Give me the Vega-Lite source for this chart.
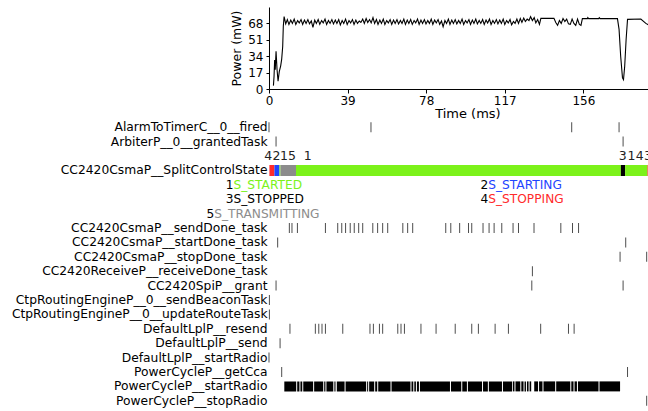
{
  "$schema": "https://vega.github.io/schema/vega-lite/v6.json",
  "padding": {"left": 5, "top": 7, "right": 0, "bottom": 0},
  "spacing": -1,
  "config": {
    "font": "DejaVu Sans",
    "view": {"stroke": null},
    "axis": {"grid": false, "labelColor": "#000", "titleColor": "#000", "domainColor": "#000", "tickColor": "#000", "titleFontWeight": "normal"}
  },
  "datasets": {
    "power": [
      {"t": 2.2, "p": 3.5}, {"t": 2.5, "p": 13}, {"t": 2.8, "p": 30}, {"t": 3.1, "p": 20}, {"t": 3.5, "p": 39}, {"t": 4.0, "p": 20},
      {"t": 4.5, "p": 8}, {"t": 5.1, "p": 18}, {"t": 5.8, "p": 24}, {"t": 6.3, "p": 31}, {"t": 6.8, "p": 44}, {"t": 7.1, "p": 65},
      {"t": 7.5, "p": 75}, {"t": 8.3, "p": 67.5}, {"t": 9.1, "p": 72}, {"t": 9.9, "p": 67}, {"t": 10.8, "p": 71.5}, {"t": 11.6, "p": 68},
      {"t": 12.5, "p": 72.5}, {"t": 13.3, "p": 67}, {"t": 14.2, "p": 71}, {"t": 15.0, "p": 68.5}, {"t": 15.9, "p": 72}, {"t": 16.7, "p": 67},
      {"t": 17.6, "p": 71.5}, {"t": 18.4, "p": 68}, {"t": 19.3, "p": 72}, {"t": 20.1, "p": 67.5}, {"t": 21.0, "p": 70.5}, {"t": 21.8, "p": 64},
      {"t": 22.7, "p": 71.5}, {"t": 23.5, "p": 68}, {"t": 24.4, "p": 72}, {"t": 25.2, "p": 67}, {"t": 26.1, "p": 71}, {"t": 26.9, "p": 68.5},
      {"t": 27.8, "p": 72.5}, {"t": 28.6, "p": 67}, {"t": 29.5, "p": 71}, {"t": 30.3, "p": 68}, {"t": 31.2, "p": 72}, {"t": 32.0, "p": 67.5},
      {"t": 32.9, "p": 71.5}, {"t": 33.7, "p": 68}, {"t": 34.6, "p": 72}, {"t": 35.4, "p": 66.5}, {"t": 36.3, "p": 71}, {"t": 37.1, "p": 68},
      {"t": 38.0, "p": 72.5}, {"t": 38.8, "p": 67}, {"t": 39.7, "p": 71}, {"t": 40.5, "p": 68.5}, {"t": 41.4, "p": 72}, {"t": 42.2, "p": 67},
      {"t": 43.1, "p": 71.5}, {"t": 43.9, "p": 68}, {"t": 44.8, "p": 70.5}, {"t": 45.6, "p": 69}, {"t": 46.5, "p": 72.5}, {"t": 47.3, "p": 68},
      {"t": 48.2, "p": 73}, {"t": 49.0, "p": 69}, {"t": 49.9, "p": 72}, {"t": 50.7, "p": 68.5}, {"t": 51.6, "p": 74}, {"t": 52.4, "p": 68},
      {"t": 53.3, "p": 72}, {"t": 54.1, "p": 67}, {"t": 55.0, "p": 71.5}, {"t": 55.8, "p": 68}, {"t": 56.7, "p": 72.5}, {"t": 57.5, "p": 67},
      {"t": 58.4, "p": 71}, {"t": 59.2, "p": 68.5}, {"t": 60.1, "p": 72}, {"t": 60.9, "p": 67}, {"t": 61.8, "p": 71.5}, {"t": 62.6, "p": 68},
      {"t": 63.5, "p": 72}, {"t": 64.3, "p": 67.5}, {"t": 65.2, "p": 71}, {"t": 66.0, "p": 68}, {"t": 66.9, "p": 72.5}, {"t": 67.7, "p": 67},
      {"t": 68.6, "p": 71.5}, {"t": 69.4, "p": 68}, {"t": 70.3, "p": 72}, {"t": 71.1, "p": 67}, {"t": 72.0, "p": 71}, {"t": 72.8, "p": 68.5},
      {"t": 73.7, "p": 72.5}, {"t": 74.5, "p": 67}, {"t": 75.4, "p": 71.5}, {"t": 76.2, "p": 68}, {"t": 77.1, "p": 72}, {"t": 77.9, "p": 67.5},
      {"t": 78.8, "p": 71}, {"t": 79.6, "p": 68}, {"t": 80.5, "p": 72.5}, {"t": 81.3, "p": 67}, {"t": 82.2, "p": 71.5}, {"t": 83.0, "p": 68.5},
      {"t": 83.9, "p": 72}, {"t": 84.7, "p": 67}, {"t": 85.6, "p": 70.5}, {"t": 86.4, "p": 64.5}, {"t": 87.3, "p": 71}, {"t": 88.1, "p": 68},
      {"t": 89.0, "p": 72.5}, {"t": 89.8, "p": 67}, {"t": 90.7, "p": 71.5}, {"t": 91.5, "p": 68}, {"t": 92.4, "p": 72}, {"t": 93.2, "p": 67.5},
      {"t": 94.1, "p": 71}, {"t": 94.9, "p": 68}, {"t": 95.8, "p": 72.5}, {"t": 96.6, "p": 67}, {"t": 97.5, "p": 71}, {"t": 98.3, "p": 68.5},
      {"t": 99.2, "p": 72}, {"t": 100.0, "p": 67}, {"t": 100.9, "p": 71.5}, {"t": 101.7, "p": 68}, {"t": 102.6, "p": 72.5}, {"t": 103.4, "p": 67.5},
      {"t": 104.3, "p": 71}, {"t": 105.1, "p": 68}, {"t": 106.0, "p": 72}, {"t": 106.8, "p": 67}, {"t": 107.7, "p": 71.5}, {"t": 108.5, "p": 68.5},
      {"t": 109.4, "p": 72.5}, {"t": 110.2, "p": 67}, {"t": 111.1, "p": 71}, {"t": 111.9, "p": 68}, {"t": 112.8, "p": 72}, {"t": 113.6, "p": 67.5},
      {"t": 114.5, "p": 71.5}, {"t": 115.3, "p": 68}, {"t": 116.2, "p": 72.5}, {"t": 117.0, "p": 67}, {"t": 117.9, "p": 71}, {"t": 118.7, "p": 68.5},
      {"t": 119.6, "p": 72}, {"t": 120.4, "p": 66.5}, {"t": 121.3, "p": 70}, {"t": 122.1, "p": 68}, {"t": 123.0, "p": 72.5}, {"t": 123.8, "p": 68},
      {"t": 124.7, "p": 73}, {"t": 125.5, "p": 69}, {"t": 126.4, "p": 73.5}, {"t": 127.2, "p": 70}, {"t": 128.1, "p": 72.5}, {"t": 129.0, "p": 71},
      {"t": 129.8, "p": 75}, {"t": 130.7, "p": 71}, {"t": 131.6, "p": 74}, {"t": 132.4, "p": 68.5}, {"t": 133.3, "p": 72}, {"t": 134.2, "p": 67},
      {"t": 134.9, "p": 73.2}, {"t": 141.4, "p": 73.2}, {"t": 142.3, "p": 69}, {"t": 143.2, "p": 66}, {"t": 144.1, "p": 71}, {"t": 145.0, "p": 68},
      {"t": 145.9, "p": 73}, {"t": 146.8, "p": 70}, {"t": 147.7, "p": 72.5}, {"t": 148.6, "p": 67.5}, {"t": 149.5, "p": 67}, {"t": 150.4, "p": 72.5},
      {"t": 151.3, "p": 68}, {"t": 152.2, "p": 66}, {"t": 153.1, "p": 72.5}, {"t": 154.0, "p": 67}, {"t": 154.8, "p": 66}, {"t": 155.5, "p": 73},
      {"t": 158.0, "p": 73}, {"t": 158.2, "p": 74}, {"t": 158.6, "p": 73}, {"t": 163.6, "p": 73}, {"t": 163.9, "p": 74}, {"t": 164.3, "p": 73},
      {"t": 172.9, "p": 73}, {"t": 173.7, "p": 61.8}, {"t": 174.5, "p": 34}, {"t": 175.4, "p": 11.5}, {"t": 175.9, "p": 9.7}, {"t": 176.5, "p": 23.6},
      {"t": 177.2, "p": 51.4}, {"t": 177.9, "p": 72.2}, {"t": 184.5, "p": 72.5}, {"t": 187.0, "p": 68}, {"t": 188.6, "p": 66}
    ],
    "events": [
      {"row": "AlarmToTimerC__0__fired", "t": 0.0}, {"row": "AlarmToTimerC__0__fired", "t": 50.6}, {"row": "AlarmToTimerC__0__fired", "t": 150.2}, {"row": "AlarmToTimerC__0__fired", "t": 173.7},
      {"row": "ArbiterP__0__grantedTask", "t": 3.5}, {"row": "ArbiterP__0__grantedTask", "t": 175.7},
      {"row": "CC2420CsmaP__sendDone_task", "t": 10.1}, {"row": "CC2420CsmaP__sendDone_task", "t": 11.4}, {"row": "CC2420CsmaP__sendDone_task", "t": 14.1},
      {"row": "CC2420CsmaP__sendDone_task", "t": 28.0}, {"row": "CC2420CsmaP__sendDone_task", "t": 34.1}, {"row": "CC2420CsmaP__sendDone_task", "t": 36.1},
      {"row": "CC2420CsmaP__sendDone_task", "t": 38.0}, {"row": "CC2420CsmaP__sendDone_task", "t": 40.3}, {"row": "CC2420CsmaP__sendDone_task", "t": 42.3},
      {"row": "CC2420CsmaP__sendDone_task", "t": 44.5}, {"row": "CC2420CsmaP__sendDone_task", "t": 46.5}, {"row": "CC2420CsmaP__sendDone_task", "t": 51.5},
      {"row": "CC2420CsmaP__sendDone_task", "t": 53.9}, {"row": "CC2420CsmaP__sendDone_task", "t": 56.4}, {"row": "CC2420CsmaP__sendDone_task", "t": 58.9},
      {"row": "CC2420CsmaP__sendDone_task", "t": 66.4}, {"row": "CC2420CsmaP__sendDone_task", "t": 68.8}, {"row": "CC2420CsmaP__sendDone_task", "t": 71.3},
      {"row": "CC2420CsmaP__sendDone_task", "t": 87.7}, {"row": "CC2420CsmaP__sendDone_task", "t": 90.2}, {"row": "CC2420CsmaP__sendDone_task", "t": 94.6},
      {"row": "CC2420CsmaP__sendDone_task", "t": 99.0}, {"row": "CC2420CsmaP__sendDone_task", "t": 100.6}, {"row": "CC2420CsmaP__sendDone_task", "t": 106.2},
      {"row": "CC2420CsmaP__sendDone_task", "t": 109.2}, {"row": "CC2420CsmaP__sendDone_task", "t": 111.7}, {"row": "CC2420CsmaP__sendDone_task", "t": 115.5},
      {"row": "CC2420CsmaP__sendDone_task", "t": 121.1}, {"row": "CC2420CsmaP__sendDone_task", "t": 123.8}, {"row": "CC2420CsmaP__sendDone_task", "t": 131.5},
      {"row": "CC2420CsmaP__sendDone_task", "t": 144.8}, {"row": "CC2420CsmaP__sendDone_task", "t": 150.6}, {"row": "CC2420CsmaP__sendDone_task", "t": 153.6},
      {"row": "CC2420CsmaP__startDone_task", "t": 4.3}, {"row": "CC2420CsmaP__startDone_task", "t": 177.0},
      {"row": "CC2420CsmaP__stopDone_task", "t": 174.2}, {"row": "CC2420CsmaP__stopDone_task", "t": 187.4},
      {"row": "CC2420ReceiveP__receiveDone_task", "t": 130.7},
      {"row": "CC2420SpiP__grant", "t": 3.5}, {"row": "CC2420SpiP__grant", "t": 130.4}, {"row": "CC2420SpiP__grant", "t": 175.7},
      {"row": "CtpRoutingEngineP__0__sendBeaconTask", "t": 0.2},
      {"row": "CtpRoutingEngineP__0__updateRouteTask", "t": 0.2},
      {"row": "DefaultLplP__resend", "t": 10.4}, {"row": "DefaultLplP__resend", "t": 23.0}, {"row": "DefaultLplP__resend", "t": 24.7},
      {"row": "DefaultLplP__resend", "t": 26.3}, {"row": "DefaultLplP__resend", "t": 28.0}, {"row": "DefaultLplP__resend", "t": 36.6},
      {"row": "DefaultLplP__resend", "t": 50.1}, {"row": "DefaultLplP__resend", "t": 51.8}, {"row": "DefaultLplP__resend", "t": 54.8},
      {"row": "DefaultLplP__resend", "t": 56.4}, {"row": "DefaultLplP__resend", "t": 63.9}, {"row": "DefaultLplP__resend", "t": 65.5},
      {"row": "DefaultLplP__resend", "t": 67.2}, {"row": "DefaultLplP__resend", "t": 75.4}, {"row": "DefaultLplP__resend", "t": 82.9},
      {"row": "DefaultLplP__resend", "t": 92.4}, {"row": "DefaultLplP__resend", "t": 100.6}, {"row": "DefaultLplP__resend", "t": 103.9},
      {"row": "DefaultLplP__resend", "t": 112.2}, {"row": "DefaultLplP__resend", "t": 118.8}, {"row": "DefaultLplP__resend", "t": 134.8},
      {"row": "DefaultLplP__resend", "t": 148.6}, {"row": "DefaultLplP__resend", "t": 151.4},
      {"row": "DefaultLplP__send", "t": 5.5},
      {"row": "DefaultLplP__startRadio", "t": 0.0},
      {"row": "PowerCycleP__getCca", "t": 6.3}, {"row": "PowerCycleP__getCca", "t": 177.9},
      {"row": "PowerCycleP__stopRadio", "t": 187.4}
    ],
    "states": [
      {"row": "CC2420CsmaP__SplitControlState", "t": 0.2, "t2": 2.7, "state": "S_STOPPING"},
      {"row": "CC2420CsmaP__SplitControlState", "t": 2.7, "t2": 5.2, "state": "S_STARTING"},
      {"row": "CC2420CsmaP__SplitControlState", "t": 5.2, "t2": 5.7, "state": "S_STARTED"},
      {"row": "CC2420CsmaP__SplitControlState", "t": 5.7, "t2": 13.4, "state": "S_TRANSMITTING"},
      {"row": "CC2420CsmaP__SplitControlState", "t": 13.4, "t2": 174.6, "state": "S_STARTED"},
      {"row": "CC2420CsmaP__SplitControlState", "t": 174.6, "t2": 176.7, "state": "S_STOPPED"},
      {"row": "CC2420CsmaP__SplitControlState", "t": 176.7, "t2": 187.8, "state": "S_STARTED"},
      {"row": "CC2420CsmaP__SplitControlState", "t": 187.8, "t2": 188.2, "state": "S_STOPPING"},
      {"row": "CC2420CsmaP__SplitControlState", "t": 188.2, "t2": 190.0, "state": "S_STOPPED"}
    ],
    "runs": [
      {"row": "PowerCycleP__startRadio", "t": 7.6, "t2": 13.5}, {"row": "PowerCycleP__startRadio", "t": 14.0, "t2": 15.1},
      {"row": "PowerCycleP__startRadio", "t": 15.6, "t2": 16.5}, {"row": "PowerCycleP__startRadio", "t": 17.0, "t2": 21.9},
      {"row": "PowerCycleP__startRadio", "t": 22.4, "t2": 26.9}, {"row": "PowerCycleP__startRadio", "t": 27.4, "t2": 28.0},
      {"row": "PowerCycleP__startRadio", "t": 28.5, "t2": 31.9}, {"row": "PowerCycleP__startRadio", "t": 32.4, "t2": 32.7},
      {"row": "PowerCycleP__startRadio", "t": 33.0, "t2": 33.3}, {"row": "PowerCycleP__startRadio", "t": 33.7, "t2": 37.5},
      {"row": "PowerCycleP__startRadio", "t": 38.0, "t2": 48.2}, {"row": "PowerCycleP__startRadio", "t": 48.7, "t2": 49.2},
      {"row": "PowerCycleP__startRadio", "t": 49.7, "t2": 52.2}, {"row": "PowerCycleP__startRadio", "t": 52.7, "t2": 53.7},
      {"row": "PowerCycleP__startRadio", "t": 54.2, "t2": 60.3}, {"row": "PowerCycleP__startRadio", "t": 60.8, "t2": 70.2},
      {"row": "PowerCycleP__startRadio", "t": 70.7, "t2": 71.6}, {"row": "PowerCycleP__startRadio", "t": 72.1, "t2": 72.9},
      {"row": "PowerCycleP__startRadio", "t": 73.4, "t2": 74.4}, {"row": "PowerCycleP__startRadio", "t": 74.9, "t2": 89.8},
      {"row": "PowerCycleP__startRadio", "t": 90.3, "t2": 95.4}, {"row": "PowerCycleP__startRadio", "t": 95.9, "t2": 98.2},
      {"row": "PowerCycleP__startRadio", "t": 98.7, "t2": 105.7}, {"row": "PowerCycleP__startRadio", "t": 106.2, "t2": 108.6},
      {"row": "PowerCycleP__startRadio", "t": 109.1, "t2": 115.6}, {"row": "PowerCycleP__startRadio", "t": 116.1, "t2": 120.6},
      {"row": "PowerCycleP__startRadio", "t": 121.0, "t2": 121.8}, {"row": "PowerCycleP__startRadio", "t": 122.3, "t2": 124.7},
      {"row": "PowerCycleP__startRadio", "t": 125.2, "t2": 126.3}, {"row": "PowerCycleP__startRadio", "t": 126.8, "t2": 127.5},
      {"row": "PowerCycleP__startRadio", "t": 128.0, "t2": 128.8}, {"row": "PowerCycleP__startRadio", "t": 129.3, "t2": 130.1},
      {"row": "PowerCycleP__startRadio", "t": 131.6, "t2": 133.5}, {"row": "PowerCycleP__startRadio", "t": 134.0, "t2": 135.7},
      {"row": "PowerCycleP__startRadio", "t": 136.2, "t2": 142.0}, {"row": "PowerCycleP__startRadio", "t": 142.5, "t2": 149.5},
      {"row": "PowerCycleP__startRadio", "t": 150.0, "t2": 151.1}, {"row": "PowerCycleP__startRadio", "t": 151.6, "t2": 152.8},
      {"row": "PowerCycleP__startRadio", "t": 153.3, "t2": 163.5}, {"row": "PowerCycleP__startRadio", "t": 164.0, "t2": 174.2}
    ],
    "labelsLeft": [
      {"row": "_lbl", "t": -0.4, "n": "4"}, {"row": "_lbl", "t": 3.7, "n": "2"}, {"row": "_lbl", "t": 7.4, "n": "1"},
      {"row": "_lbl", "t": 11.4, "n": "5"}, {"row": "_lbl", "t": 19.2, "n": "1"}
    ],
    "labelsRight": [
      {"row": "_lbl", "t": 175.5, "n": "3"}, {"row": "_lbl", "t": 179.9, "n": "1"}, {"row": "_lbl", "t": 184.0, "n": "4"}, {"row": "_lbl", "t": 188.0, "n": "3"}
    ],
    "legend": [
      {"row": "_leg1", "t": -17.6, "n": "1", "state": "S_STARTED"},
      {"row": "_leg1", "t": 108.8, "n": "2", "state": "S_STARTING"},
      {"row": "_leg2", "t": -17.6, "n": "3", "state": "S_STOPPED"},
      {"row": "_leg2", "t": 108.8, "n": "4", "state": "S_STOPPING"},
      {"row": "_leg3", "t": -27.2, "n": "5", "state": "S_TRANSMITTING"}
    ]
  },
  "vconcat": [
    {
      "width": 379.7,
      "height": 82,
      "data": {"name": "power"},
      "mark": {"type": "line", "color": "#000", "strokeWidth": 1.1, "clip": true},
      "encoding": {
        "x": {
          "field": "t", "type": "quantitative",
          "scale": {"domain": [0, 188.4], "nice": false, "zero": false},
          "axis": {"values": [0, 39, 78, 117, 156], "title": "Time (ms)", "titleX": 198.4, "labelFontSize": 12, "titleFontSize": 13, "tickSize": 4, "labelPadding": 2, "titlePadding": 1, "labelFlush": false}
        },
        "y": {
          "field": "p", "type": "quantitative",
          "scale": {"domain": [0, 85], "nice": false},
          "axis": {"values": [0, 17, 34, 51, 68], "title": "Power (mW)", "labelFontSize": 12, "titleFontSize": 12.5, "tickSize": 3, "labelPadding": 3, "titlePadding": 4, "labelFlush": false}
        }
      }
    },
    {
      "width": 379.7,
      "height": 288,
      "encoding": {
        "y": {
          "field": "row", "type": "nominal",
          "scale": {"type": "band", "paddingInner": 0, "paddingOuter": 0, "domain": [
            "AlarmToTimerC__0__fired", "ArbiterP__0__grantedTask", "_lbl", "CC2420CsmaP__SplitControlState", "_leg1", "_leg2", "_leg3",
            "CC2420CsmaP__sendDone_task", "CC2420CsmaP__startDone_task", "CC2420CsmaP__stopDone_task", "CC2420ReceiveP__receiveDone_task",
            "CC2420SpiP__grant", "CtpRoutingEngineP__0__sendBeaconTask", "CtpRoutingEngineP__0__updateRouteTask", "DefaultLplP__resend",
            "DefaultLplP__send", "DefaultLplP__startRadio", "PowerCycleP__getCca", "PowerCycleP__startRadio", "PowerCycleP__stopRadio"]},
          "axis": {"title": null, "ticks": false, "domain": false, "labelPadding": 2, "labelFontSize": 12.3, "labelLimit": 400, "minExtent": 263.3, "maxExtent": 263.3, "labelExpr": "slice(datum.value, 0, 1) == '_' ? '' : datum.label"}
        },
        "x": {"field": "t", "type": "quantitative", "scale": {"domain": [0, 188.4], "nice": false, "zero": false}, "axis": null}
      },
      "layer": [
        {
          "data": {"name": "events"},
          "mark": {"type": "tick", "color": "#000", "thickness": 1, "size": 10}
        },
        {
          "data": {"name": "states"},
          "mark": {"type": "bar", "height": 11, "clip": true},
          "encoding": {
            "x2": {"field": "t2"},
            "color": {"field": "state", "type": "nominal", "legend": null,
              "scale": {"domain": ["S_STARTED", "S_STARTING", "S_STOPPED", "S_STOPPING", "S_TRANSMITTING"], "range": ["#7CF21A", "#1F45FF", "#000000", "#FF2B2B", "#8C8C8C"]}}
          }
        },
        {
          "data": {"name": "runs"},
          "mark": {"type": "bar", "height": 10, "color": "#000", "clip": true},
          "encoding": {"x2": {"field": "t2"}}
        },
        {
          "data": {"name": "labelsLeft"},
          "mark": {"type": "text", "fontSize": 12.5, "color": "#222", "align": "center", "baseline": "middle"},
          "encoding": {"text": {"field": "n"}}
        },
        {
          "data": {"name": "labelsRight"},
          "mark": {"type": "text", "fontSize": 12.5, "color": "#222", "align": "center", "baseline": "middle", "clip": true},
          "encoding": {"text": {"field": "n"}}
        },
        {
          "data": {"name": "legend"},
          "mark": {"type": "text", "fontSize": 12.2, "color": "#000", "align": "right", "baseline": "middle"},
          "encoding": {"text": {"field": "n"}}
        },
        {
          "data": {"name": "legend"},
          "mark": {"type": "text", "fontSize": 12.2, "align": "left", "baseline": "middle"},
          "encoding": {
            "text": {"field": "state"},
            "color": {"field": "state", "type": "nominal", "legend": null,
              "scale": {"domain": ["S_STARTED", "S_STARTING", "S_STOPPED", "S_STOPPING", "S_TRANSMITTING"], "range": ["#7CF21A", "#1F45FF", "#000000", "#FF2B2B", "#8C8C8C"]}}
          }
        }
      ]
    }
  ]
}
